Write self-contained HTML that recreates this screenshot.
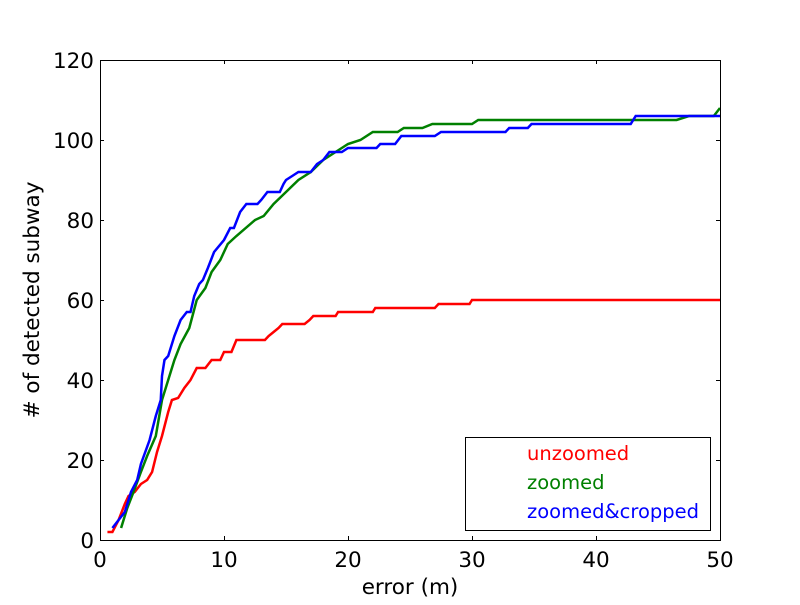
<!DOCTYPE html>
<html><head><meta charset="utf-8"><style>
body{margin:0;background:#fff}
svg text{font-family:"DejaVu Sans","Liberation Sans",sans-serif}
</style></head><body>
<svg id="chart" width="800" height="600">
<rect x="0" y="0" width="800" height="600" fill="#fff"/>
<g id="ticks"></g>
<g id="lines"></g>
<rect x="100.5" y="60.5" width="620" height="480" fill="none" stroke="#000" stroke-width="1"/>
<text x="410" y="594" font-size="21.5" text-anchor="middle">error (m)</text>
<text transform="translate(39,300) rotate(-90)" font-size="21.5" text-anchor="middle"># of detected subway</text>
<g>
<rect x="465.5" y="437.5" width="245" height="93" fill="#fff" stroke="#000"/>
<text x="527" y="460" font-size="19.5" fill="#ff0000">unzoomed</text>
<text x="527" y="489" font-size="19.5" fill="#008000">zoomed</text>
<text x="527" y="518" font-size="19.5" fill="#0000ff">zoomed&amp;cropped</text>
</g>
</svg>
<script>
const xTicks=[0,10,20,30,40,50];
const yTicks=[0,20,40,60,80,100,120];
const redX=[0.6,1,1.5,2,2.3,2.8,3.3,3.8,4.2,4.6,5,5.5,5.8,6.3,6.8,7.3,7.8,8.5,9,9.7,10,10.6,11,13.3,13.6,14,14.4,14.7,16.5,16.9,17.2,19,19.2,22,22.2,27,27.3,29.8,30,50];
const redY=[2,2,5,9,11,12,14,15,17,22,26,32,35,35.5,38,40,43,43,45,45,47,47,50,50,51,52,53,54,54,55,56,56,57,57,58,58,59,59,60,60];
const greenX=[1.7,2.2,2.7,3.3,3.8,4.5,5,5.5,6,6.5,7.2,7.8,8.5,9,9.7,10.3,11,12.5,13.2,14,15,16,17,18,19,20,21,22,24,24.5,26,26.8,30,30.5,46.5,47.5,49.5,50];
const greenY=[3,8,12,17,21,26,35,40,45,49,53,60,63,67,70,74,76,80,81,84,87,90,92,95,97,99,100,102,102,103,103,104,104,105,105,106,106,108];
const blueX=[1,1.5,2,2.5,3,3.3,4,4.5,4.9,5,5.2,5.5,6,6.5,7,7.3,7.6,8,8.3,8.7,9.2,10,10.5,10.8,11.3,11.8,12.7,13,13.5,14.5,14.8,15,15.5,16,17,17.5,18,18.5,19.5,20,22.3,22.6,23.8,24.3,27,27.5,32.7,33,34.5,34.8,42.8,43.2,50];
const blueY=[3,5,7,12,15,19,25,31,35,41,45,46,51,55,57,57,61,64,65,68,72,75,78,78,82,84,84,85,87,87,89,90,91,92,92,94,95,97,97,98,98,99,99,101,101,102,102,103,103,104,104,106,106];
const X0=100,X1=720,Y0=540,Y1=60;
const sx=v=>X0+(v-0)/(50-0)*(X1-X0);
const sy=v=>Y0-(v-0)/(120-0)*(Y0-Y1);
const NS='http://www.w3.org/2000/svg';
const tg=document.getElementById('ticks');
xTicks.forEach(t=>{
  const x=sx(t)+0.5;
  [[Y0,Y0-4],[Y1,Y1+4]].forEach(p=>{
    const l=document.createElementNS(NS,'line');
    l.setAttribute('x1',x);l.setAttribute('x2',x);l.setAttribute('y1',p[0]);l.setAttribute('y2',p[1]);l.setAttribute('stroke','#000');
    
    
    tg.appendChild(l);
  });
  const tx=document.createElementNS(NS,'text');
  tx.setAttribute('x',sx(t));tx.setAttribute('y',567);tx.setAttribute('font-size','21.5');tx.setAttribute('text-anchor','middle');
  tx.textContent=t;
  
  
  tg.appendChild(tx);
});
yTicks.forEach(t=>{
  const y=sy(t)+0.5;
  [[X0,X0+4],[X1,X1-4]].forEach(p=>{
    const l=document.createElementNS(NS,'line');
    l.setAttribute('x1',p[0]);l.setAttribute('x2',p[1]);l.setAttribute('y1',y);l.setAttribute('y2',y);l.setAttribute('stroke','#000');
    
    
    tg.appendChild(l);
  });
  const tx=document.createElementNS(NS,'text');
  tx.setAttribute('x',94);tx.setAttribute('y',sy(t)+8);tx.setAttribute('font-size','21.5');tx.setAttribute('text-anchor','end');
  tx.textContent=t;
  
  
  tg.appendChild(tx);
});
const lg=document.getElementById('lines');
function drawLine(xs,ys,color,name){
  const p=document.createElementNS(NS,'polyline');
  p.setAttribute('points',xs.map((x,i)=>sx(x)+','+sy(ys[i])).join(' '));
  p.setAttribute('fill','none');p.setAttribute('stroke',color);p.setAttribute('stroke-width','2.5');
  
  
  lg.appendChild(p);
}
drawLine(redX,redY,'#ff0000','line-unzoomed');
drawLine(greenX,greenY,'#008000','line-zoomed');
drawLine(blueX,blueY,'#0000ff','line-zoomed-cropped');
</script>
</body></html>
